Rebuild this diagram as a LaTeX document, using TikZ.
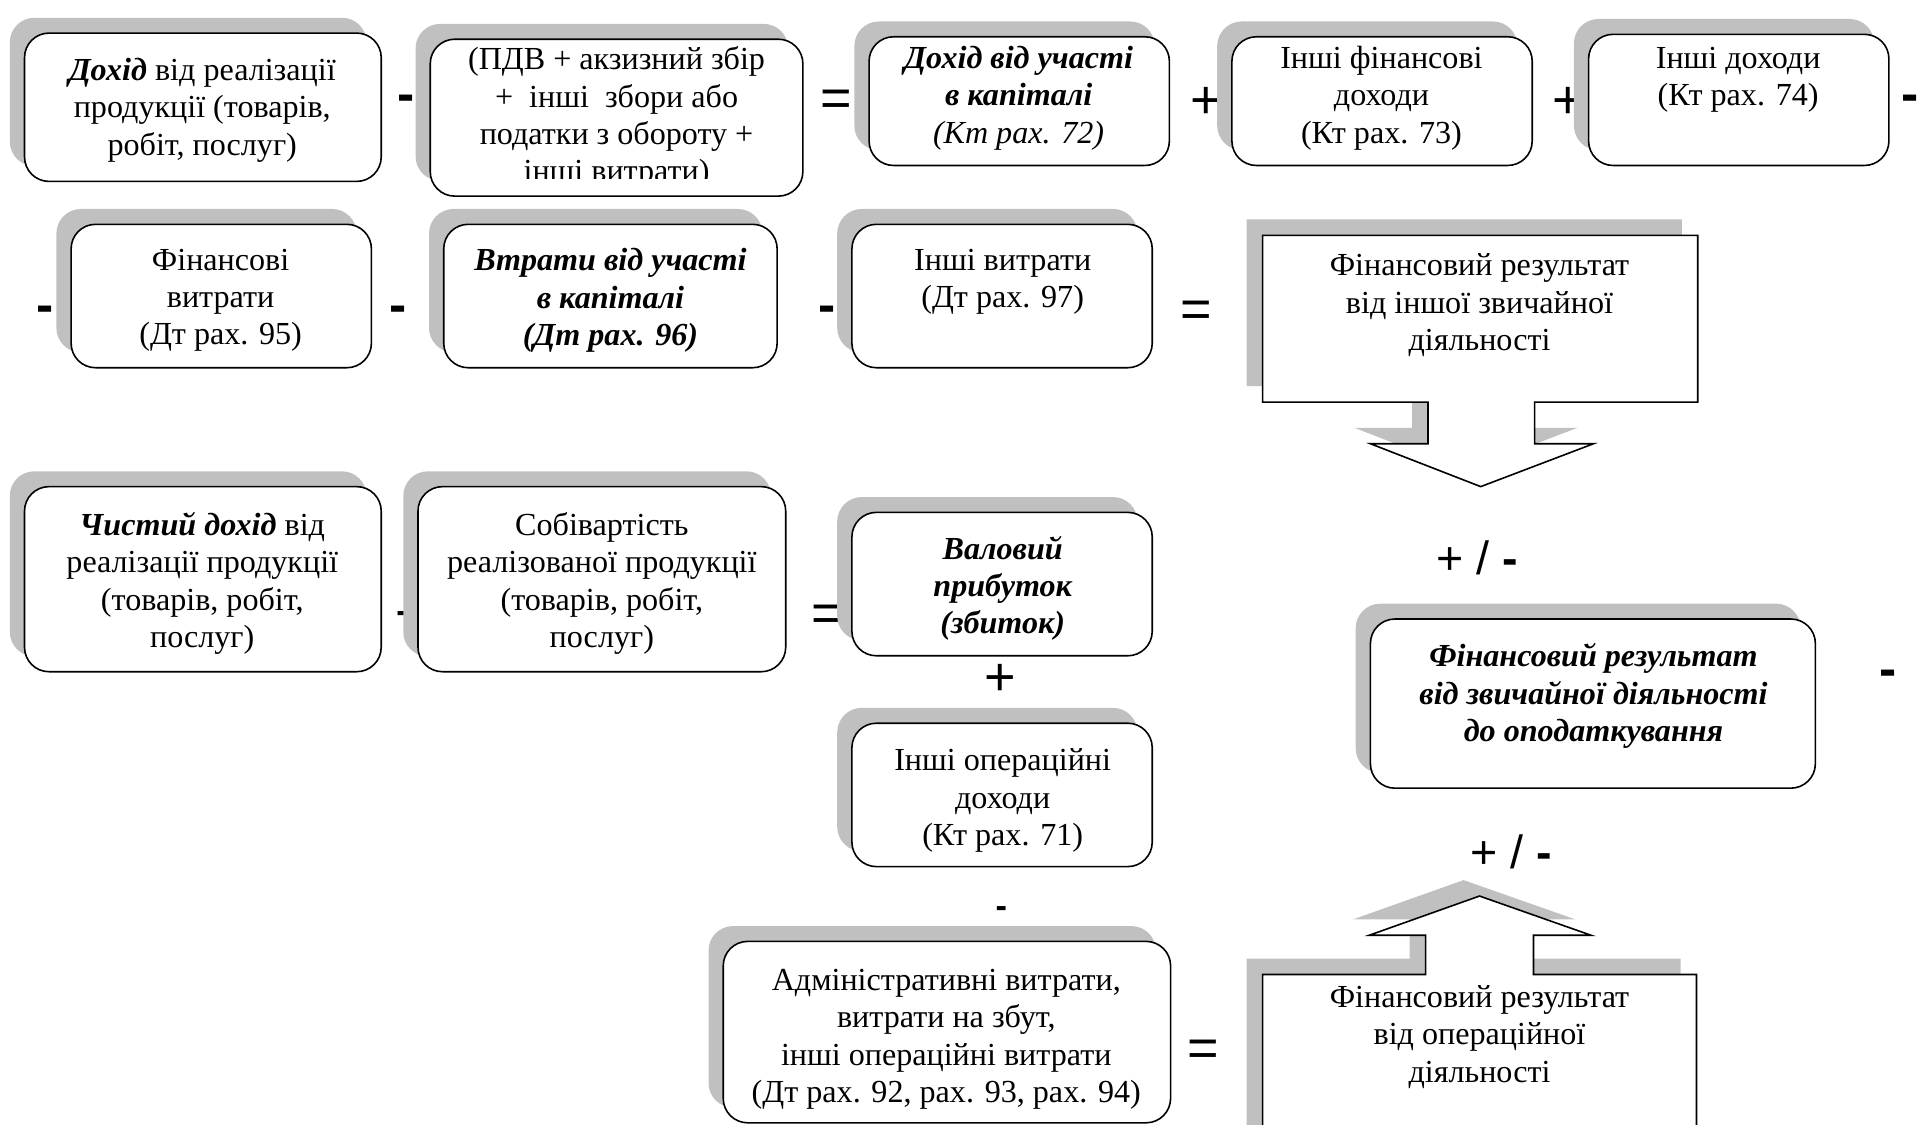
\documentclass[tikz,border=0pt]{standalone}
\usepackage{fontspec}
\setmainfont{Liberation Serif}
\newfontfamily\opfont{Liberation Sans}
\definecolor{shadowgrey}{RGB}{192,192,192}
\tikzset{
  rbox/.style={draw=black, line width=1.3pt, fill=white, rounded corners=20pt,
    inner sep=0pt,
    preaction={draw=none, fill=shadowgrey, transform canvas={shift={(-12pt,12.5pt)}}}},
  txt/.style={align=center, inner sep=0pt, font=\fontsize{26.2}{30.5}\selectfont},
  op/.style={inner sep=0pt, font=\opfont\fontsize{44}{44}\selectfont},
  mn/.style={inner sep=0pt, font=\opfont\bfseries\fontsize{42}{42}\selectfont},
  mnsmall/.style={inner sep=0pt, font=\opfont\bfseries\fontsize{28}{28}\selectfont},
  pm/.style={inner sep=0pt, font=\opfont\fontsize{38}{38}\selectfont},
  callout/.style={draw=black, line width=1.3pt, fill=white, line join=miter},
}
\newcommand\bi[1]{{\bfseries\itshape #1}}
\begin{document}
\begin{tikzpicture}[x=1pt, y=-1pt]
\useasboundingbox (0,0) rectangle (1568,917);
\clip (0,0) rectangle (1568,917);

% ---- first row: income items ----
\node[rbox, minimum width=291pt, minimum height=121pt] (b1) at (165.5,87.5) {};
\node[txt] (t1) at (165,90) {\bi{Дохід} від реалізації\\продукції (товарів,\\робіт, послуг)};
\node[mn] (m1) at (331,84) {-};

\node[rbox, minimum width=304pt, minimum height=128pt] (b2) at (503,96) {};
\begin{scope}
  \clip (351,20) rectangle (655,146);
  \node[txt] (t2) at (503,96) {(ПДВ + акзизний збір\\+\ \ інші\ \ збори або\\податки з обороту +\\інші витрати)};
\end{scope}
\node[op] (e1) at (682,84) {=};

\node[rbox, minimum width=245pt, minimum height=105pt] (b3) at (831.5,82.5) {};
\node[txt] (t3) at (831,80) {\bi{Дохід від участі}\\\bi{в капіталі}\\\textit{(Кт рах. 72)}};
\node[op] (p1) at (984,84) {+};

\node[rbox, minimum width=245pt, minimum height=105pt] (b4) at (1127.5,82.5) {};
\node[txt] (t4) at (1127,80) {Інші фінансові\\доходи\\(Кт рах. 73)};
\node[op] (p2) at (1279,84) {+};

\node[rbox, minimum width=245pt, minimum height=107pt] (b5) at (1418.5,81.5) {};
\node[txt] (t5) at (1418,65) {Інші доходи\\(Кт рах. 74)};
\node[mn] (m2) at (1558,84) {-};

% ---- second row: expense items ----
\node[mn] (m3) at (37,256) {-};
\node[rbox, minimum width=245pt, minimum height=117pt] (b6) at (180.5,241.5) {};
\node[txt] (t6) at (180,245) {Фінансові\\витрати\\(Дт рах. 95)};
\node[mn] (m4) at (325,256) {-};

\node[rbox, minimum width=272pt, minimum height=117pt] (b7) at (498,241.5) {};
\node[txt] (t7) at (498,245) {\bi{Втрати від участі}\\\bi{в капіталі}\\\bi{(Дт рах. 96)}};
\node[mn] (m5) at (675,256) {-};

\node[rbox, minimum width=245pt, minimum height=117pt] (b8) at (817.5,241.5) {};
\node[txt] (t8) at (818,230) {Інші витрати\\(Дт рах. 97)};
\node[op] (e2) at (976,256) {=};

% ---- result of other ordinary activity (down callout) ----
\fill[shadowgrey] (1017,179) -- (1372,179) -- (1372,315) -- (1239,315) -- (1239,349)
  -- (1287,349) -- (1195,384) -- (1105,349) -- (1152,349) -- (1152,315)
  -- (1017,315) -- cycle;
\draw[callout] (1030,192) -- (1385,192) -- (1385,328) -- (1252,328) -- (1252,362)
  -- (1300,362) -- (1208,397) -- (1118,362) -- (1165,362) -- (1165,328)
  -- (1030,328) -- cycle;
\node[txt] (c1) at (1207,249) {Фінансовий результат\\від іншої звичайної\\діяльності};
\node[pm] (pm1) at (1205,455) {+ / \textbf{-}};

% ---- third row: gross profit ----
\node[rbox, minimum width=291pt, minimum height=151pt] (b9) at (165.5,472.5) {};
\node[txt] (t9) at (165,476) {\bi{Чистий дохід} від\\реалізації продукції\\(товарів, робіт,\\послуг)};
\node[mnsmall] (m6) at (328,503) {-};

\node[rbox, minimum width=300pt, minimum height=151pt] (b10) at (491,472.5) {};
\node[txt] (t10) at (491,476) {Собівартість\\реалізованої продукції\\(товарів, робіт,\\послуг)};
\node[op] (e3) at (675,504) {=};

\node[rbox, minimum width=245pt, minimum height=117pt] (b11) at (817.5,476.5) {};
\node[txt] (t11) at (818,480) {\bi{Валовий}\\\bi{прибуток}\\\bi{(збиток)}};
\node[op] (p3) at (816,555) {+};

\node[rbox, minimum width=245pt, minimum height=117pt] (b12) at (817.5,648.5) {};
\node[txt] (t12) at (818,653) {Інші операційні\\доходи\\(Кт рах. 71)};
\node[mnsmall] (m7) at (817,744) {-};

\node[rbox, minimum width=365pt, minimum height=148pt] (b13) at (772.5,842) {};
\node[txt] (t13) at (772,848) {Адміністративні витрати,\\витрати на збут,\\інші операційні витрати\\(Дт рах. 92, рах. 93, рах. 94)};
\node[op] (e4) at (982,859) {=};

% ---- result of operating activity (up callout) ----
\fill[shadowgrey] (1017,950) -- (1017,782) -- (1150,782) -- (1150,750) -- (1104,750)
  -- (1194,718) -- (1285,750) -- (1238,750) -- (1238,782) -- (1371,782)
  -- (1371,950) -- cycle;
\draw[callout] (1030,950) -- (1030,795) -- (1163,795) -- (1163,763) -- (1117,763)
  -- (1207,731) -- (1298,763) -- (1251,763) -- (1251,795) -- (1384,795)
  -- (1384,950);
\node[txt] (c2) at (1207,846) {Фінансовий результат\\від операційної\\діяльності};
\node[pm] (pm2) at (1233,695) {+ / \textbf{-}};

% ---- ordinary activity before tax ----
\node[rbox, minimum width=363pt, minimum height=138pt] (b14) at (1299.5,574) {};
\node[txt] (t14) at (1300,568) {\bi{Фінансовий результат}\\\bi{від звичайної діяльності}\\\bi{до оподаткування}};
\node[mn] (m8) at (1540,553) {-};
\end{tikzpicture}
\end{document}
